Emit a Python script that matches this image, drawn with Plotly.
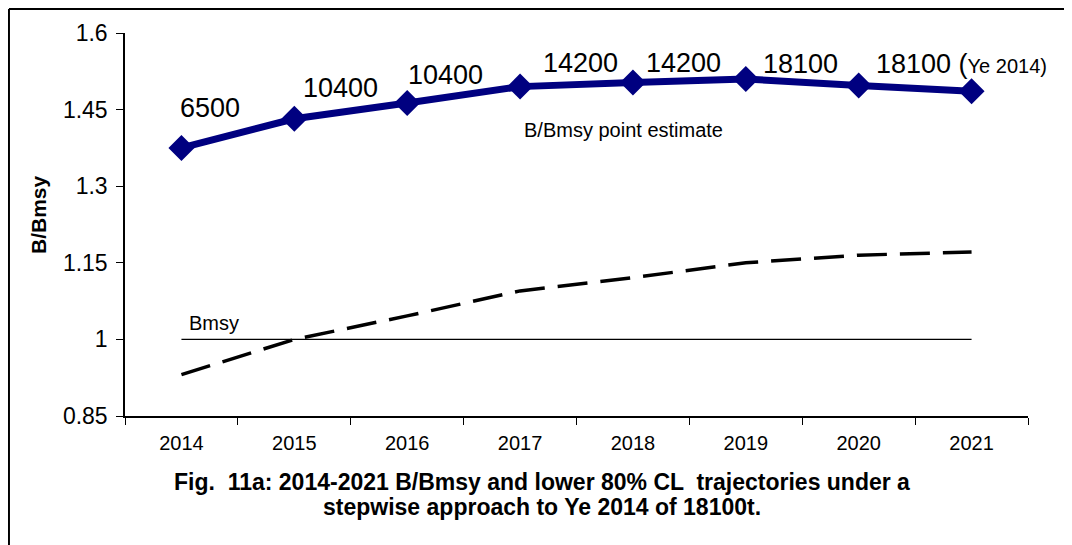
import plotly.graph_objects as go

years = ["2014", "2015", "2016", "2017", "2018", "2019", "2020", "2021"]
point_estimate = [1.375, 1.432, 1.463, 1.495, 1.503, 1.510, 1.497, 1.486]
lower_80 = [0.931, 1.000, 1.046, 1.095, 1.121, 1.150, 1.165, 1.171]
bmsy = [1.0] * 8
catch_labels = ["6500", "10400", "10400", "14200", "14200", "18100",
                "18100 (<span style='font-size:20px'>Ye 2014)</span>", ""]
y_ticks = [0.85, 1.0, 1.15, 1.3, 1.45, 1.6]
y_tick_text = ["0.85", "1", "1.15", "1.3", "1.45", "1.6"]
caption_lines = ["Fig.  11a: 2014-2021 B/Bmsy and lower 80% CL  trajectories under a",
                 "stepwise approach to Ye 2014 of 18100t."]

FONT = "Liberation Sans, Arial, sans-serif"

fig = go.Figure()
fig.add_trace(go.Scatter(x=years, y=bmsy, mode="lines",
                         line=dict(color="black", width=1.3), hoverinfo="skip"))
fig.add_trace(go.Scatter(x=years, y=lower_80, mode="lines",
                         line=dict(color="black", width=3.5, dash="30px,13px")))
fig.add_trace(go.Scatter(x=years, y=point_estimate, mode="lines+markers",
                         line=dict(color="#000080", width=7),
                         marker=dict(symbol="diamond", size=20, color="#000080")))

# label offsets (pixels) relative to each point, left-edge anchored
x_off = [-3, 7, -1, 21, 11, 15, 15, 0]
y_off = [40, 31, 28, 24, 20, 15, 22, 0]
for i, (v, txt, dx, dy) in enumerate(zip(point_estimate, catch_labels, x_off, y_off)):
    if not txt:
        continue
    fig.add_annotation(x=i, y=v, text=txt, showarrow=False, xanchor="left",
                       yanchor="middle", xshift=dx, yshift=dy,
                       font=dict(family=FONT, size=27, color="black"))

fig.add_annotation(x=4, y=1.41, text="B/Bmsy point estimate", showarrow=False,
                   xanchor="center", yanchor="middle", xshift=-9,
                   font=dict(family=FONT, size=20, color="black"))
fig.add_annotation(x=0, y=1.033, text="Bmsy", showarrow=False,
                   xanchor="left", yanchor="middle", xshift=6,
                   font=dict(family=FONT, size=20, color="black"))

fig.add_annotation(xref="paper", yref="paper", x=-0.0965, y=0.527,
                   xanchor="center", yanchor="middle",
                   text="<b>B/Bmsy</b>", textangle=-90, showarrow=False,
                   font=dict(family=FONT, size=21, color="black"))

for line_text, ypos in zip(caption_lines, [-0.172, -0.237]):
    fig.add_annotation(xref="paper", yref="paper", x=0.462, y=ypos,
                       xanchor="center", yanchor="middle",
                       text="<b>" + line_text + "</b>",
                       showarrow=False, align="center",
                       font=dict(family=FONT, size=23, color="black"))

# outer frame (left and top edges visible)
fig.add_shape(type="line", xref="paper", yref="paper", x0=-0.1285, x1=-0.1285,
              y0=1.0627, y1=-0.36, line=dict(color="black", width=2))
fig.add_shape(type="line", xref="paper", yref="paper", x0=-0.1285, x1=1.06,
              y0=1.0627, y1=1.0627, line=dict(color="black", width=2))

fig.update_layout(
    width=1072, height=545,
    margin=dict(l=117, r=52, t=25, b=137),
    paper_bgcolor="white", plot_bgcolor="white",
    showlegend=False,
    font=dict(family=FONT, color="black"),
    xaxis=dict(type="category", range=[-0.5, 7.5], showline=True, linecolor="black",
               linewidth=1.5, ticks="outside", ticklen=7, tickcolor="black",
               tickson="boundaries", showgrid=False, zeroline=False,
               ticklabelstandoff=8,
               tickfont=dict(family=FONT, size=20, color="black")),
    yaxis=dict(range=[0.85, 1.6], showline=True, linecolor="black", linewidth=1.5,
               ticks="outside", ticklen=7, tickcolor="black", tickvals=y_ticks,
               ticktext=y_tick_text, showgrid=False, zeroline=False,
               ticklabelstandoff=4,
               tickfont=dict(family=FONT, size=23, color="black")),
)

fig.write_html("out.html")
